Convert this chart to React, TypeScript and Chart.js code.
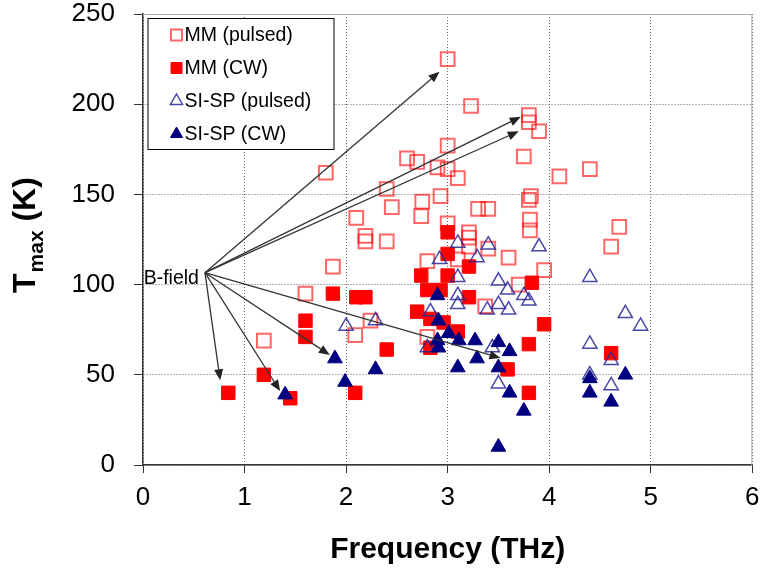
import React, { useEffect, useRef } from "react";
import { Chart, registerables } from "chart.js";
Chart.register(...registerables);

const xTickValues = [0, 1, 2, 3, 4, 5, 6];
const yTickValues = [0, 50, 100, 150, 200, 250];
const seriesNames = ["MM (pulsed)", "MM (CW)", "SI-SP (pulsed)", "SI-SP (CW)"];

const mmPulsedX = [3.0, 1.8, 3.23, 3.8, 3.8, 3.9, 3.75, 4.1, 2.6, 2.7, 2.9, 3.0, 3.0, 3.1, 2.4, 2.45, 2.1, 2.19, 2.19, 2.4, 1.87, 1.6, 1.19, 2.09, 2.24, 3.82, 3.8, 2.75, 2.93, 2.74, 3.3, 3.4, 3.81, 3.81, 3.0, 3.21, 3.21, 3.21, 3.4, 3.6, 2.8, 3.1, 3.95, 3.7, 3.37, 4.4, 4.69, 4.61, 2.8];
const mmPulsedY = [225, 162, 199, 194, 190, 185, 171, 160, 170, 168, 165, 177, 164, 159, 153, 143, 137, 127, 124, 124, 110, 95, 69, 72, 80, 149, 147, 146, 149, 138, 142, 142, 136, 130, 134, 129, 126, 121, 120, 115, 113, 114, 108, 100, 88, 164, 132, 121, 71];

const mmCwX = [0.84, 1.19, 1.45, 1.6, 1.6, 1.87, 2.1, 2.19, 2.09, 2.4, 3.0, 3.0, 3.21, 2.74, 3.0, 2.8, 2.93, 3.21, 2.7, 2.83, 2.96, 3.1, 2.83, 3.95, 3.8, 3.59, 3.8, 3.83, 4.61];
const mmCwY = [40, 50, 37, 80, 71, 95, 93, 93, 40, 64, 129, 117, 110, 105, 105, 97, 97, 93, 85, 81, 79, 74, 65, 78, 67, 53, 40, 101, 62];

const siPulsedX = [2.0, 2.29, 3.1, 3.4, 3.9, 2.92, 3.29, 3.1, 3.5, 3.59, 3.75, 3.8, 3.1, 3.1, 2.83, 3.39, 3.5, 3.6, 2.8, 3.44, 3.5, 4.4, 4.75, 4.9, 4.4, 4.61, 4.4, 4.61];
const siPulsedY = [77, 80, 123, 122, 121, 114, 115, 104, 102, 97, 94, 91, 94, 89, 85, 86, 89, 86, 65, 65, 45, 104, 84, 77, 67, 58, 50, 44];

const siCwX = [1.4, 1.89, 1.99, 2.29, 2.9, 2.91, 3.01, 3.11, 2.9, 2.91, 3.27, 3.5, 3.61, 3.29, 3.1, 3.5, 3.61, 3.75, 3.5, 4.4, 4.75, 4.4, 4.61];
const siCwY = [39, 59, 46, 53, 94, 80, 73, 69, 69, 65, 69, 68, 63, 59, 54, 54, 40, 30, 10, 48, 50, 40, 35];

const bFieldLabel = "B-field";
const bFieldOriginX = 0.61;
const bFieldOriginY = 106.6;
const arrowTipX = [2.92, 3.72, 3.7, 0.76, 1.35, 1.84, 3.52];
const arrowTipY = [218, 193, 185, 47, 41, 61, 59.3];

const xTitle = "Frequency (THz)";
const yTitleMain = "T";
const yTitleSub = "max";
const yTitleUnit = " (K)";

const FONT = '"Liberation Sans", Arial, sans-serif';

const styles = [
  { shape: "rect", fill: "rgba(0,0,0,0)", stroke: "rgba(255,0,0,0.6)", width: 2, r: 9.7 },
  { shape: "rect", fill: "#ff0000", stroke: "#ff0000", width: 1, r: 9.5 },
  { shape: "triangle", fill: "rgba(0,0,0,0)", stroke: "rgba(40,40,150,0.85)", width: 1.5, r: 8.2 },
  { shape: "triangle", fill: "#000080", stroke: "#000080", width: 1, r: 8.5 },
];

function toPoints(xs: number[], ys: number[]) {
  return xs.map((x, i) => ({ x, y: ys[i] }));
}

function drawMarker(ctx: CanvasRenderingContext2D, idx: number, cx: number, cy: number) {
  const s = styles[idx];
  ctx.save();
  ctx.beginPath();
  if (s.shape === "rect") {
    const h = 5.5;
    ctx.rect(cx - h, cy - h, 2 * h, 2 * h);
  } else {
    const r = 7;
    ctx.moveTo(cx, cy - r);
    ctx.lineTo(cx + r * 0.866, cy + r * 0.5);
    ctx.lineTo(cx - r * 0.866, cy + r * 0.5);
    ctx.closePath();
  }
  ctx.fillStyle = s.fill;
  ctx.fill();
  ctx.strokeStyle = s.stroke;
  ctx.lineWidth = s.width;
  ctx.stroke();
  ctx.restore();
}

const overlayPlugin = {
  id: "overlay",
  beforeDatasetsDraw(chart: any) {
    const { ctx, chartArea: a } = chart;
    ctx.save();
    ctx.strokeStyle = "#b0b0b0";
    ctx.lineWidth = 1;
    ctx.beginPath();
    ctx.moveTo(a.left, a.top + 0.5);
    ctx.lineTo(a.right - 0.5, a.top + 0.5);
    ctx.lineTo(a.right - 0.5, a.bottom);
    ctx.stroke();
    ctx.restore();
  },
  afterDatasetsDraw(chart: any) {
    const { ctx, scales, chartArea: a } = chart;
    const xs = scales.x;
    const ys = scales.y;
    const ox = xs.getPixelForValue(bFieldOriginX);
    const oy = ys.getPixelForValue(bFieldOriginY);
    ctx.save();
    ctx.strokeStyle = "#333333";
    ctx.fillStyle = "#222222";
    ctx.lineWidth = 1.3;
    for (let i = 0; i < arrowTipX.length; i++) {
      const tx = xs.getPixelForValue(arrowTipX[i]);
      const ty = ys.getPixelForValue(arrowTipY[i]);
      const ang = Math.atan2(ty - oy, tx - ox);
      const len = 11;
      const hw = 4.5;
      const bx = tx - Math.cos(ang) * len;
      const by = ty - Math.sin(ang) * len;
      ctx.beginPath();
      ctx.moveTo(ox, oy);
      ctx.lineTo(bx, by);
      ctx.stroke();
      ctx.beginPath();
      ctx.moveTo(tx, ty);
      ctx.lineTo(bx - Math.sin(ang) * hw, by + Math.cos(ang) * hw);
      ctx.lineTo(bx + Math.sin(ang) * hw, by - Math.cos(ang) * hw);
      ctx.closePath();
      ctx.fill();
    }
    ctx.fillStyle = "#000";
    ctx.font = `19.5px ${FONT}`;
    ctx.textAlign = "right";
    ctx.textBaseline = "alphabetic";
    ctx.fillText(bFieldLabel, ox - 6, oy + 11);

    // legend box
    const lx = a.left + 4.5;
    const ly = a.top + 4;
    const lw = 186;
    const lh = 131;
    ctx.fillStyle = "#ffffff";
    ctx.fillRect(lx, ly, lw, lh);
    ctx.strokeStyle = "#000";
    ctx.lineWidth = 1;
    ctx.strokeRect(lx + 0.5, ly + 0.5, lw, lh);
    ctx.font = `19.5px ${FONT}`;
    ctx.textAlign = "left";
    ctx.textBaseline = "middle";
    for (let i = 0; i < seriesNames.length; i++) {
      const cy = ly + 17 + i * 33;
      drawMarker(ctx, i, lx + 29, cy);
      ctx.fillStyle = "#000";
      ctx.fillText(seriesNames[i], lx + 37, cy + 1);
    }

    // x title
    ctx.font = `bold 30px ${FONT}`;
    ctx.textAlign = "center";
    ctx.textBaseline = "alphabetic";
    ctx.fillText(xTitle, (a.left + a.right) / 2, 558);

    // y title
    ctx.translate(35, 293);
    ctx.rotate(-Math.PI / 2);
    ctx.textAlign = "left";
    ctx.font = `bold 32px ${FONT}`;
    ctx.fillText(yTitleMain, 0, 0);
    const w1 = ctx.measureText(yTitleMain).width;
    ctx.font = `bold 21px ${FONT}`;
    ctx.fillText(yTitleSub, w1 + 1, 8);
    const w2 = ctx.measureText(yTitleSub).width;
    ctx.font = `bold 32px ${FONT}`;
    ctx.fillText(yTitleUnit, w1 + w2 + 1, 0);
    ctx.restore();
  },
};

function zeroPad(s: any) {
  s.paddingTop = 0;
  s.paddingBottom = 0;
  s.paddingLeft = 0;
  s.paddingRight = 0;
}

export default function App() {
  const ref = useRef<HTMLCanvasElement>(null);
  useEffect(() => {
    document.body.style.margin = "0";
    const canvas = ref.current!;
    const mk = (i: number, xs: number[], ys: number[], order: number) => ({
      label: seriesNames[i],
      data: toPoints(xs, ys),
      pointStyle: styles[i].shape,
      pointRadius: styles[i].r,
      pointHoverRadius: styles[i].r,
      backgroundColor: styles[i].fill,
      borderColor: styles[i].stroke,
      pointBorderWidth: styles[i].width,
      borderWidth: styles[i].width,
      showLine: false,
      order,
    });
    const chart = new Chart(canvas, {
      type: "scatter",
      data: {
        datasets: [
          mk(0, mmPulsedX, mmPulsedY, 3),
          mk(1, mmCwX, mmCwY, 2),
          mk(2, siPulsedX, siPulsedY, 1),
          mk(3, siCwX, siCwY, 0),
        ] as any,
      },
      options: {
        animation: false,
        responsive: false,
        events: [],
        layout: { padding: { top: 14, right: 7, left: 0, bottom: 0 } },
        plugins: { legend: { display: false }, tooltip: { enabled: false } },
        scales: {
          x: {
            type: "linear",
            min: 0,
            max: 6,
            afterFit: (s: any) => {
              s.height = 104;
              zeroPad(s);
            },
            afterBuildTicks: (s: any) => {
              s.ticks = xTickValues.map((v) => ({ value: v }));
            },
            ticks: {
              font: { size: 26, family: FONT },
              color: "#000",
              padding: 9,
              maxRotation: 0,
            },
            grid: {
              color: "#666666",
              tickColor: "#333",
              tickLength: 8,
              lineWidth: 1,
              tickBorderDash: [],
            },
            border: { color: "#333", width: 1.5, dash: [1, 2] },
          },
          y: {
            type: "linear",
            min: 0,
            max: 250,
            afterFit: (s: any) => {
              s.width = 143;
              zeroPad(s);
            },
            afterBuildTicks: (s: any) => {
              s.ticks = yTickValues.map((v) => ({ value: v }));
            },
            ticks: {
              font: { size: 26, family: FONT },
              color: "#000",
              padding: 19,
            },
            grid: {
              color: "#666666",
              tickColor: "#333",
              tickLength: 9,
              lineWidth: 1,
              tickBorderDash: [],
            },
            border: { color: "#333", width: 1.5, dash: [1, 2] },
          },
        },
      } as any,
      plugins: [overlayPlugin as any],
    });
    return () => chart.destroy();
  }, []);
  return <canvas ref={ref} width={764} height={569} style={{ display: "block" }} />;
}
